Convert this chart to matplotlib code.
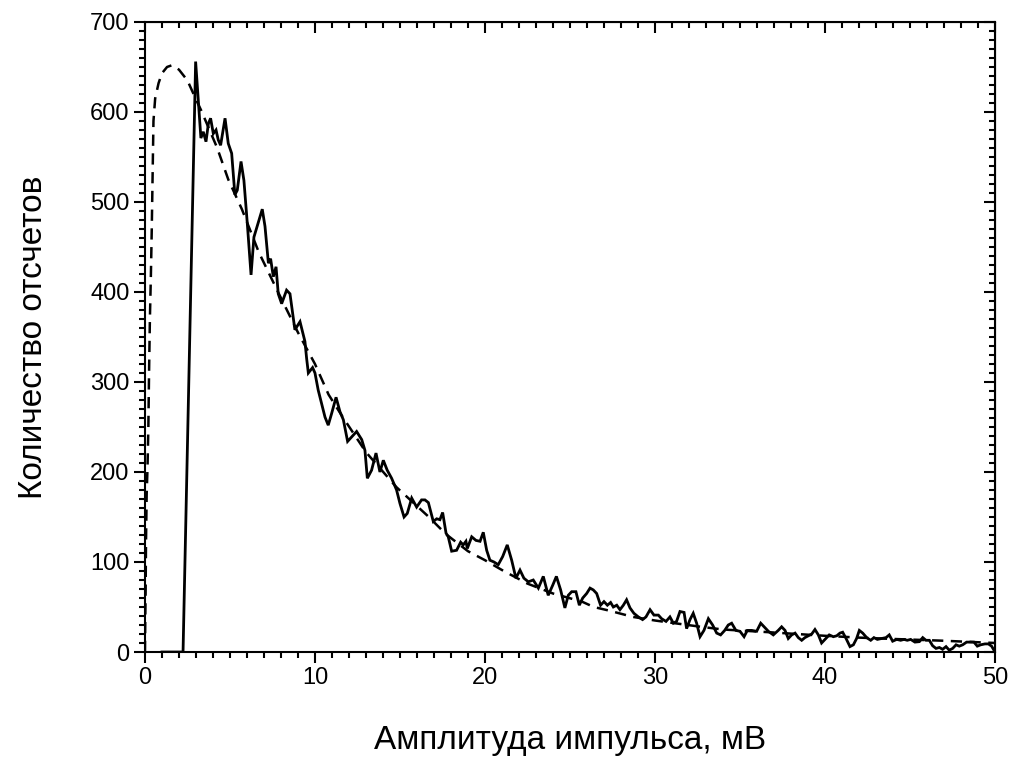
import matplotlib
matplotlib.use("Agg")
import matplotlib.pyplot as plt
from matplotlib.ticker import MultipleLocator

plt.rcParams['font.family'] = ['Liberation Sans', 'DejaVu Sans']

# измеренный спектр (сплошная линия)
meas_x = [1.0, 2.24, 2.98, 3.29, 3.43, 3.59, 3.73, 3.86, 4.02, 4.18, 4.31, 4.45, 4.71,
          4.90, 5.10, 5.29, 5.43, 5.65, 5.82, 6.02, 6.24, 6.41, 6.90, 7.06, 7.26, 7.39,
          7.55, 7.71, 7.84, 8.04, 8.33, 8.53, 8.82, 9.12, 9.41, 9.51, 9.61, 9.86, 10.0,
          10.19, 10.39, 10.59, 10.78, 10.98, 11.24, 11.47, 11.67, 11.92, 12.16, 12.45,
          12.75, 12.94, 13.08, 13.33, 13.59, 13.82, 14.02, 14.25, 14.51, 14.8, 15.0,
          15.24, 15.43, 15.69, 15.98, 16.27, 16.47, 16.67, 16.96, 17.16, 17.35, 17.51,
          17.71, 17.84, 18.04, 18.33, 18.57, 18.72, 18.88, 18.96, 19.22, 19.47, 19.71,
          19.9, 20.1, 20.29, 20.53, 20.78, 21.04, 21.31, 21.57, 21.82, 22.06, 22.29,
          22.55, 22.84, 23.14, 23.43, 23.72, 23.98, 24.2, 24.45, 24.7, 24.9, 25.1, 25.35,
          25.55, 25.75, 25.98, 26.18, 26.37, 26.57, 26.8, 27.0, 27.2, 27.39, 27.55,
          27.75, 27.94, 28.14, 28.33, 28.53, 28.76, 29.02, 29.27, 29.47, 29.71, 29.94,
          30.2, 30.39, 30.65, 30.88, 31.08, 31.27, 31.47, 31.71, 31.86, 32.06, 32.25,
          32.45, 32.65, 32.88, 33.14, 33.39, 33.63, 33.86, 34.1, 34.31, 34.51, 34.76,
          35.0, 35.24, 35.43, 35.69, 35.98, 36.22, 36.47, 36.67, 36.96, 37.25, 37.45,
          37.65, 37.84, 38.04, 38.24, 38.43, 38.63, 38.82, 39.02, 39.22, 39.41, 39.61,
          39.8, 40.0, 40.25, 40.49, 40.69, 40.88, 41.04, 41.24, 41.47, 41.67, 41.86,
          42.02, 42.22, 42.45, 42.69, 42.88, 43.08, 43.33, 43.59, 43.78, 43.98, 44.22,
          44.45, 44.65, 44.84, 45.04, 45.29, 45.55, 45.75, 45.94, 46.14, 46.33, 46.53,
          46.73, 46.92, 47.12, 47.31, 47.51, 47.71, 47.9, 48.1, 48.33, 48.53, 48.76,
          48.96, 49.16, 49.41, 49.61, 49.8, 49.94]
meas_y = [0, 0, 656, 571, 578, 567, 587, 593, 576, 580, 569, 563, 593,
          565, 554, 508, 513, 545, 524, 476, 419, 461, 492, 473, 432, 437,
          417, 428, 398, 387, 402, 398, 358, 367, 345, 326, 310, 316, 310,
          291, 276, 261, 252, 265, 283, 267, 258, 234, 239, 245,
          236, 224, 193, 202, 221, 200, 213, 202, 193, 180, 165,
          150, 154, 171, 161, 169, 169, 166, 145, 148, 147, 155,
          132, 128, 112, 113, 122, 119, 123, 115, 128, 124, 123,
          133, 113, 102, 100, 97, 106, 119, 102, 82, 91, 82,
          78, 80, 71, 84, 63, 74, 84, 69, 49, 63, 67, 67,
          52, 60, 65, 71, 69, 65, 52, 56, 52, 55, 50,
          52, 47, 52, 58, 49, 43, 39, 36, 39, 47, 41,
          41, 37, 34, 39, 32, 34, 45, 44, 26, 36, 43,
          32, 17, 24, 37, 30, 21, 19, 24, 30, 32, 24,
          23, 17, 24, 24, 23, 32, 27, 23, 19, 24, 28,
          24, 15, 19, 21, 16, 13, 16, 18, 20, 25, 19,
          10, 14, 19, 17, 18, 21, 22, 15, 6, 8, 15,
          24, 21, 16, 13, 16, 14, 15, 16, 19, 12, 14,
          13, 14, 13, 14, 11, 11.5, 16, 13, 13, 7, 4,
          5, 3, 6, 2, 4, 8, 6.5, 8, 11, 11, 11,
          6.5, 8, 9, 9, 6.5, 2]

# аппроксимация (штриховая линия)
fit_x = [0.0, 0.02, 0.04, 0.06, 0.1, 0.15, 0.2, 0.24, 0.29, 0.35, 0.4, 0.45, 0.5,
         0.6, 0.8, 1.0, 1.3, 1.6, 2.0, 2.5, 3.0, 3.3, 4.25, 4.9, 5.7, 6.7, 7.8, 9.0,
         10.0, 10.8, 11.6, 13.0, 14.8, 16.7, 17.7, 19.0, 20.0, 21.1, 22.5, 24.0,
         25.7, 26.4, 27.3, 28.7, 30.0, 32.7, 34.0, 36.7, 40.0, 42.0, 44.0, 47.0, 50.0]
fit_y = [0, 40, 70, 120, 175, 205, 250, 310, 370, 420, 470, 530, 590,
         615, 632, 643, 650, 652, 647, 635, 614, 602, 560, 525, 492, 444, 401, 355,
         320, 286, 262, 222, 183, 150, 131, 112, 102, 90, 76, 65,
         56, 50, 46, 39, 35, 28, 25, 22, 18, 16, 14.5, 12.5, 10]

fig = plt.figure(figsize=(10.18, 7.6), dpi=100, facecolor="white")
ax = fig.add_axes([0.1424, 0.1421, 0.835, 0.829])

ax.plot(meas_x, meas_y, color="black", lw=2.0, solid_joinstyle="miter")
ax.plot(fit_x, fit_y, color="black", lw=1.8, dashes=(4.5, 3))

ax.set_xlim(0, 50)
ax.set_ylim(0, 700)
ax.xaxis.set_major_locator(MultipleLocator(10))
ax.xaxis.set_minor_locator(MultipleLocator(1))
ax.yaxis.set_major_locator(MultipleLocator(100))
ax.yaxis.set_minor_locator(MultipleLocator(10))

for s in ax.spines.values():
    s.set_linewidth(1.5)

ax.tick_params(which="both", direction="out", width=1.5, labelsize=17, pad=3)
ax.tick_params(which="major", length=8)
ax.tick_params(which="minor", length=4)

# зеркальные шкалы сверху и справа, внутрь
top = ax.secondary_xaxis("top")
top.xaxis.set_major_locator(MultipleLocator(10))
top.xaxis.set_minor_locator(MultipleLocator(1))
top.tick_params(which="both", direction="in", width=1.5, labeltop=False)
top.tick_params(which="major", length=8)
top.tick_params(which="minor", length=4)
right = ax.secondary_yaxis("right")
right.yaxis.set_major_locator(MultipleLocator(100))
right.yaxis.set_minor_locator(MultipleLocator(10))
right.tick_params(which="both", direction="in", width=1.5, labelright=False)
right.tick_params(which="major", length=8)
right.tick_params(which="minor", length=4)

ax.set_xlabel("Амплитуда импульса, мВ", fontsize=24, labelpad=26)
ax.set_ylabel("Количество отсчетов", fontsize=24, labelpad=30)

fig.savefig("out.png", dpi=100)
